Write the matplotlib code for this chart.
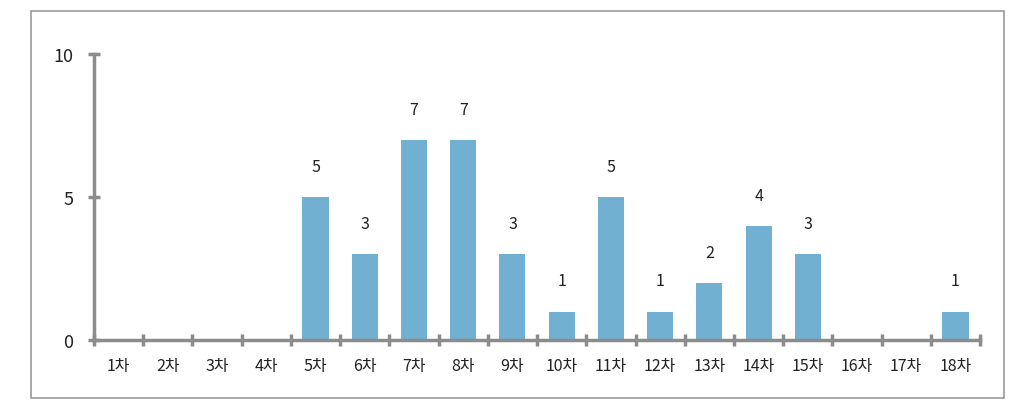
import numpy as np
import matplotlib.pyplot as plt
from matplotlib.patches import Rectangle

plt.rcParams['font.family'] = ['Noto Sans CJK KR', 'DejaVu Sans']

categories = ['1차', '2차', '3차', '4차', '5차', '6차', '7차', '8차', '9차',
              '10차', '11차', '12차', '13차', '14차', '15차', '16차', '17차', '18차']
counts = [0, 0, 0, 0, 5, 3, 7, 7, 3, 1, 5, 1, 2, 4, 3, 0, 0, 1]
yticks = [0, 5, 10]

axis_col = '#8c8c8c'
bar_col = '#71b0d1'

fig = plt.figure(figsize=(10.22, 4.1), dpi=100)
ax = fig.add_axes([0.092, 0.168, 0.867, 0.698])

x = np.arange(len(categories))
ax.bar(x, counts, width=0.53, color=bar_col, zorder=2)

for xi, v in zip(x, counts):
    if v > 0:
        ax.annotate(str(v), (xi, v), xytext=(0, 22), textcoords='offset points',
                    ha='center', va='center', fontsize=11.5, color='#222222')

ax.set_xlim(-0.5, len(categories) - 0.5)
ax.set_ylim(0, 10)
ax.set_xticks(x)
ax.set_xticklabels(categories, fontsize=11.5, color='#222222')
ax.set_xticks(np.arange(-0.5, len(categories)), minor=True)
ax.tick_params(axis='x', which='major', length=0, pad=12)
ax.tick_params(axis='x', which='minor', direction='inout', length=8, width=2.5, color=axis_col)
ax.set_yticks(yticks)
ax.tick_params(axis='y', direction='inout', length=8, width=2.5, color=axis_col,
               labelsize=13, pad=11, labelcolor='#222222')

for s in ['top', 'right']:
    ax.spines[s].set_visible(False)
for s in ['left', 'bottom']:
    ax.spines[s].set_color(axis_col)
    ax.spines[s].set_linewidth(2.5)
    ax.spines[s].set_zorder(3)

fig.patches.append(Rectangle((0.030, 0.027), 0.952, 0.944, transform=fig.transFigure,
                             fill=False, edgecolor='#999999', linewidth=1.2))

fig.savefig('out.png', dpi=100)
